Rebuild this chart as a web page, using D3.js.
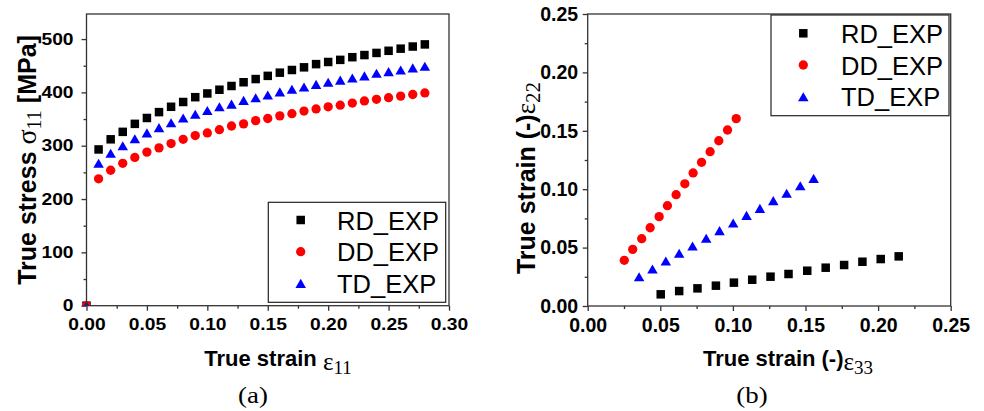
<!DOCTYPE html>
<html><head><meta charset="utf-8">
<script src="https://cdn.jsdelivr.net/npm/d3@7"></script>
<style>
body{margin:0;background:#fff;}
svg{display:block;}
</style></head>
<body>
<svg id="chart" width="984" height="411"></svg>
<script>
// ---------- DATA ----------
const seriesNames = ["RD_EXP", "DD_EXP", "TD_EXP"];
const seriesColors = ["#000000", "#ff0000", "#0000ff"];
const seriesShapes = ["square", "circle", "triangle"];

// (a) true stress vs true strain
const strainA = [0, 0.01,0.02,0.03,0.04,0.05,0.06,0.07,0.08,0.09,0.10,0.11,0.12,0.13,0.14,0.15,0.16,0.17,0.18,0.19,0.20,0.21,0.22,0.23,0.24,0.25,0.26,0.27,0.28];
const stressRD = [0, 293,312,326,341,352,363,373,382,391,398,405,412,419,425,431,437,442,447,453,457,461,466,470,474,478,482,486,490];
const stressDD = [0, 238,254,267,278,288,296,304,312,319,324,330,337,341,347,351,356,360,365,369,373,376,380,384,387,390,393,396,399];
const stressTD = [0, 267,286,300,313,324,334,343,352,359,366,373,378,385,390,395,401,406,410,415,419,423,427,431,436,439,442,446,449];

// (b) width strain vs thickness strain
const e33RD = [0.0503,0.0630,0.0756,0.0883,0.1007,0.1133,0.1259,0.1383,0.1512,0.1639,0.1766,0.1892,0.2018,0.2142];
const e22RD = [0.0100,0.0128,0.0151,0.0174,0.0200,0.0225,0.0251,0.0274,0.0302,0.0328,0.0351,0.0379,0.0402,0.0425];
const e33DD = [0.0252,0.0310,0.0372,0.0430,0.0492,0.0549,0.0609,0.0669,0.0726,0.0784,0.0843,0.0903,0.0963,0.1023];
const e22DD = [0.0391,0.0485,0.0576,0.0670,0.0765,0.0859,0.0953,0.1046,0.1139,0.1230,0.1321,0.1415,0.1507,0.1604];
const e33TD = [0.0354,0.0446,0.0538,0.0630,0.0722,0.0816,0.0908,0.1002,0.1094,0.1186,0.1278,0.1370,0.1464,0.1556];
const e22TD = [0.0251,0.0317,0.0385,0.0451,0.0514,0.0580,0.0645,0.0711,0.0776,0.0836,0.0902,0.0965,0.1030,0.1093];

const ticksAx = [0,0.05,0.10,0.15,0.20,0.25,0.30];
const ticksAy = [0,100,200,300,400,500];
const ticksBx = [0,0.05,0.10,0.15,0.20,0.25];
const ticksBy = [0,0.05,0.10,0.15,0.20,0.25];

// ---------- DRAW ----------
const svg = d3.select("#chart");
const SANS = "'Liberation Sans', Arial, sans-serif";
const SERIF = "'Liberation Serif', 'Times New Roman', serif";
const AX = "#333";

function marker(g, shape, color, cx, cy, s) {
  if (shape === "square") {
    g.append("rect").attr("x", cx - s/2).attr("y", cy - s/2).attr("width", s).attr("height", s).attr("fill", color);
  } else if (shape === "circle") {
    g.append("circle").attr("cx", cx).attr("cy", cy).attr("r", s/2 + 0.4).attr("fill", color);
  } else {
    const w = s + 2, h = s + 0.6;
    g.append("path").attr("d", `M${cx},${cy - h/2}L${cx + w/2},${cy + h/2}L${cx - w/2},${cy + h/2}Z`).attr("fill", color);
  }
}

function panel(opt) {
  const g = svg.append("g");
  const x = d3.scaleLinear().domain(opt.xDomain).range([opt.x0, opt.x1]);
  const y = d3.scaleLinear().domain(opt.yDomain).range([opt.yB, opt.yT]);
  const clipId = "clip" + opt.id;
  svg.append("clipPath").attr("id", clipId).append("rect")
    .attr("x", opt.x0 - 6).attr("y", opt.yT).attr("width", opt.x1 - opt.x0 + 6).attr("height", opt.yB - opt.yT);

  // data
  const dg = g.append("g").attr("clip-path", `url(#${clipId})`);
  opt.series.forEach((s, i) => {
    s.xs.forEach((xv, j) => marker(dg, seriesShapes[i], seriesColors[i], x(xv), y(s.ys[j]), 8.5));
  });

  // frame
  g.append("rect").attr("x", opt.x0).attr("y", opt.yT).attr("width", opt.x1 - opt.x0).attr("height", opt.yB - opt.yT)
    .attr("fill", "none").attr("stroke", AX).attr("stroke-width", 1.3);

  // minor ticks
  const minX = d3.range(opt.xDomain[0] + opt.xMinor, opt.xDomain[1], opt.xMinor * 2);
  const minY = d3.range(opt.yTicks[0] + opt.yMinor, opt.yDomain[1], opt.yMinor * 2);
  g.append("g").attr("transform", `translate(0,${opt.yB})`)
    .call(d3.axisBottom(x).tickValues(minX).tickSize(3).tickFormat(""))
    .call(a => a.select(".domain").remove()).selectAll("line").attr("stroke", AX).attr("stroke-width", 1.3);
  g.append("g").attr("transform", `translate(${opt.x0},0)`)
    .call(d3.axisLeft(y).tickValues(minY).tickSize(3).tickFormat(""))
    .call(a => a.select(".domain").remove()).selectAll("line").attr("stroke", AX).attr("stroke-width", 1.3);

  // major ticks
  const xa = g.append("g").attr("transform", `translate(0,${opt.yB})`)
    .call(d3.axisBottom(x).tickValues(opt.xTicks).tickSize(5).tickPadding(opt.xPad).tickFormat(d3.format(".2f")));
  xa.select(".domain").remove();
  xa.selectAll("line").attr("stroke", AX).attr("stroke-width", 1.3);
  xa.selectAll("text").attr("font-family", SANS).attr("font-weight", "bold").attr("font-size", opt.tickFs)
    .attr("fill", "#000").attr("transform", `scale(${opt.tickSx},1)`);

  const ya = g.append("g").attr("transform", `translate(${opt.x0},0)`)
    .call(d3.axisLeft(y).tickValues(opt.yTicks).tickSize(5).tickPadding(opt.yPad).tickFormat(opt.yFmt));
  ya.select(".domain").remove();
  ya.selectAll("line").attr("stroke", AX).attr("stroke-width", 1.3);
  ya.selectAll("text").attr("font-family", SANS).attr("font-weight", "bold").attr("font-size", opt.tickFs)
    .attr("fill", "#000").attr("transform", `scale(${opt.tickSx},1)`);

  // legend
  const L = opt.legend;
  g.append("rect").attr("x", L.x).attr("y", L.y).attr("width", L.w).attr("height", L.h)
    .attr("fill", "#fff").attr("stroke", "#222").attr("stroke-width", 1.2);
  seriesNames.forEach((n, i) => {
    const cy = L.y + L.first + i * 31.7;
    marker(g, seriesShapes[i], seriesColors[i], L.mx, cy, 8.5);
    g.append("text").attr("x", L.tx).attr("y", cy + 9.5).attr("font-family", SANS)
      .attr("font-size", 25.5).attr("fill", "#000").text(n);
  });
  return g;
}

panel({
  id: "a", x0: 86.5, x1: 449, yT: 14, yB: 305.7,
  xDomain: [0, 0.30], yDomain: [0, 547], xTicks: ticksAx, yTicks: ticksAy,
  xMinor: 0.025, yMinor: 50, xPad: 8, yPad: 6, tickFs: 16.3, tickSx: 1.18,
  yFmt: d3.format("d"),
  series: [{xs: strainA, ys: stressRD}, {xs: strainA, ys: stressDD}, {xs: strainA, ys: stressTD}],
  legend: {x: 268.3, y: 202.3, w: 177.4, h: 100, first: 17.7, mx: 300.7, tx: 337}
});

panel({
  id: "b", x0: 587.7, x1: 950.7, yT: 14, yB: 306,
  xDomain: [0, 0.25], yDomain: [0, 0.25], xTicks: ticksBx, yTicks: ticksBy,
  xMinor: 0.025, yMinor: 0.025, xPad: 7, yPad: 4.5, tickFs: 19.5, tickSx: 1.0,
  yFmt: d3.format(".2f"),
  series: [{xs: e33RD, ys: e22RD}, {xs: e33DD, ys: e22DD}, {xs: e33TD, ys: e22TD}],
  legend: {x: 771, y: 15, w: 178, h: 100.7, first: 18.3, mx: 803.3, tx: 841}
});

// axis titles
function ytitle(cx, cy, fs, parts) {
  const t = svg.append("text").attr("transform", `translate(${cx},${cy}) rotate(-90)`)
    .attr("text-anchor", "middle").attr("fill", "#000");
  parts(t, fs);
}
ytitle(36, 160, 25, (t, fs) => {
  t.append("tspan").attr("font-family", SANS).attr("font-weight", "bold").attr("font-size", fs).text("True stress ");
  t.append("tspan").attr("font-family", SERIF).attr("font-size", fs + 3).text("σ");
  t.append("tspan").attr("font-family", SERIF).attr("font-size", fs - 5).attr("dy", 5).text("11");
  t.append("tspan").attr("font-family", SANS).attr("font-weight", "bold").attr("font-size", fs).attr("dy", -5).text(" [MPa]");
});
ytitle(535, 178, 25, (t, fs) => {
  t.append("tspan").attr("font-family", SANS).attr("font-weight", "bold").attr("font-size", fs).text("True strain (-)");
  t.append("tspan").attr("font-family", SERIF).attr("font-size", fs + 2).text("ε");
  t.append("tspan").attr("font-family", SERIF).attr("font-size", fs - 4).attr("dy", 5).text("22");
});

function xtitle(cx, by, fs, mid, sub) {
  const t = svg.append("text").attr("x", cx).attr("y", by).attr("text-anchor", "middle").attr("fill", "#000");
  t.append("tspan").attr("font-family", SANS).attr("font-weight", "bold").attr("font-size", fs).text(mid);
  t.append("tspan").attr("font-family", SERIF).attr("font-size", fs + 3).attr("dy", 4).text("ε");
  t.append("tspan").attr("font-family", SERIF).attr("font-size", fs - 3).attr("dy", 4).text(sub);
}
xtitle(278, 366, 22, "True strain ", "11");
xtitle(788, 366, 22, "True strain (-)", "33");

svg.append("text").attr("transform", "translate(253,403) scale(1.12,1)").attr("text-anchor", "middle")
  .attr("font-family", SERIF).attr("font-size", 24).attr("fill", "#000").text("(a)");
svg.append("text").attr("transform", "translate(752,403) scale(1.12,1)").attr("text-anchor", "middle")
  .attr("font-family", SERIF).attr("font-size", 24).attr("fill", "#000").text("(b)");
</script>
</body></html>
